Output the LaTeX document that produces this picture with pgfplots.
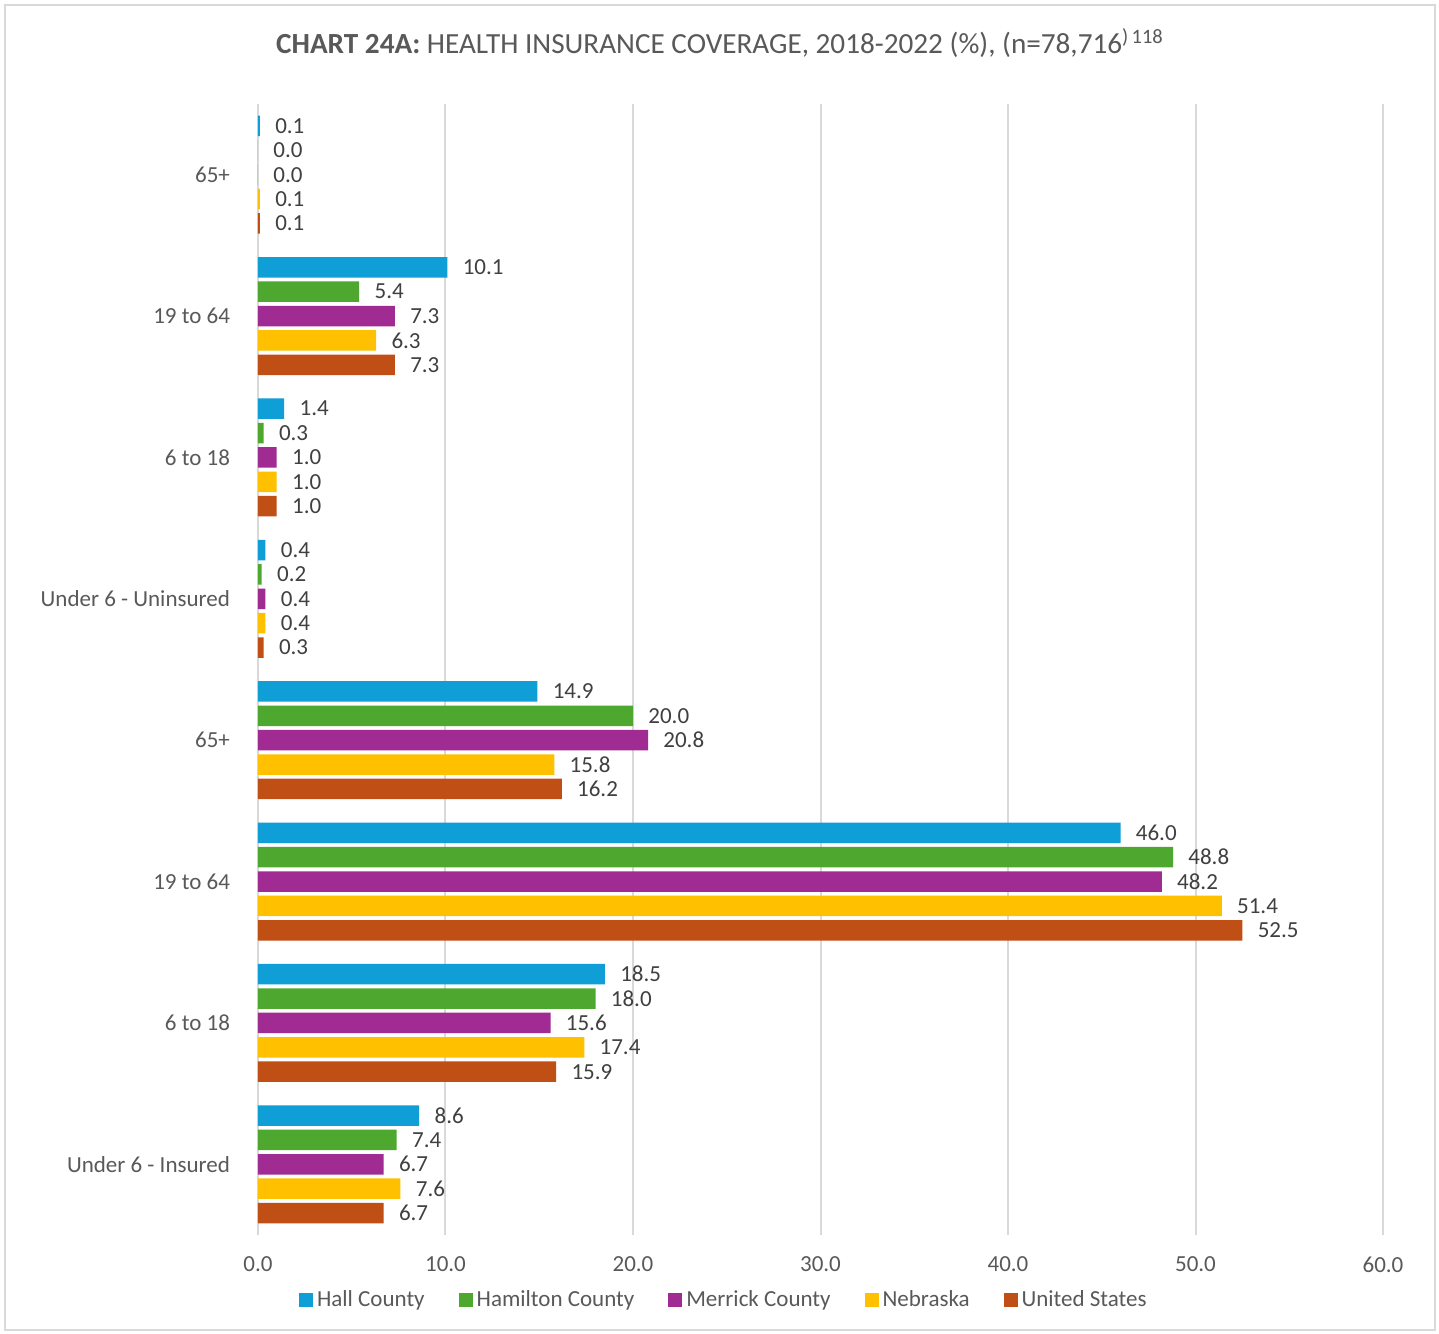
\documentclass[border=0pt]{standalone}
\usepackage{fontspec}
\setmainfont{Carlito}
\usepackage{pgfplots}
\pgfplotsset{compat=1.18}
\definecolor{hall}{HTML}{0F9ED5}
\definecolor{hamilton}{HTML}{4EA72E}
\definecolor{merrick}{HTML}{A02B93}
\definecolor{nebraska}{HTML}{FFC000}
\definecolor{usa}{HTML}{C04F15}
\definecolor{labelgray}{HTML}{595959}
\definecolor{valgray}{HTML}{404040}
\definecolor{gridgray}{HTML}{D9D9D9}
\definecolor{framegray}{HTML}{D9D9D9}
\pgfplotsset{mylegend/.style={legend image code/.code={\fill[##1] (0pt,-3.5pt) rectangle (7pt,3.5pt);}}}
\begin{document}
\begin{tikzpicture}[x=1pt,y=1pt]
\fill[white] (-129,-49) rectangle (590.5,617.5);
\draw[framegray, line width=1pt] (-126.5,-47.5) rectangle (588.5,615);
\begin{axis}[
  at={(0,0)}, anchor=south west,
  scale only axis, width=562.5pt, height=565.5pt,
  xbar, xmin=0, xmax=60, ymin=-0.5, ymax=7.5,
  xtick={0,10,...,60},
  xticklabel={\pgfmathprintnumber[fixed,fixed zerofill,precision=1]{\tick}},
  /pgf/number format/assume math mode=true,
  ytick={0,...,7},
  yticklabels={Under 6 - Insured, 6 to 18, 19 to 64, 65+, Under 6 - Uninsured, 6 to 18, 19 to 64, 65+},
  xmajorgrids, grid style={draw=gridgray, line width=1pt},
  axis line style={draw=none}, major tick length=0pt,
  tick label style={font=\fontsize{11.5}{13}\selectfont, text=labelgray},
  yticklabel style={xshift=-10.5pt},
  xticklabel style={yshift=-7.5pt},
  bar width=0.145,
  nodes near coords={\pgfmathprintnumber[fixed,fixed zerofill,precision=1]{\pgfplotspointmeta}},
  nodes near coords style={anchor=west, inner sep=0pt, xshift=7.5pt, text=valgray, font=\fontsize{11.5}{13}\selectfont},
  legend style={at={(0.415,-0.0575)}, anchor=center, draw=none, fill=none,
    font=\fontsize{11.5}{13}\selectfont, text=labelgray,
    /tikz/every even column/.append style={column sep=15pt},
    /tikz/every odd column/.append style={column sep=0pt}},
  legend columns=-1,
  clip=false,
]
\addplot[fill=hall, draw=none, bar shift=0.3452, mylegend] coordinates {
 (0.1,7) (10.1,6) (1.4,5) (0.4,4) (14.9,3) (46.0,2) (18.5,1) (8.6,0)};
\addplot[fill=hamilton, draw=none, bar shift=0.1726, mylegend] coordinates {
 (0.0,7) (5.4,6) (0.3,5) (0.2,4) (20.0,3) (48.8,2) (18.0,1) (7.4,0)};
\addplot[fill=merrick, draw=none, bar shift=0, mylegend] coordinates {
 (0.0,7) (7.3,6) (1.0,5) (0.4,4) (20.8,3) (48.2,2) (15.6,1) (6.7,0)};
\addplot[fill=nebraska, draw=none, bar shift=-0.1726, mylegend] coordinates {
 (0.1,7) (6.3,6) (1.0,5) (0.4,4) (15.8,3) (51.4,2) (17.4,1) (7.6,0)};
\addplot[fill=usa, draw=none, bar shift=-0.3452, mylegend] coordinates {
 (0.1,7) (7.3,6) (1.0,5) (0.3,4) (16.2,3) (52.5,2) (15.9,1) (6.7,0)};
\legend{Hall County, Hamilton County, Merrick County, Nebraska, United States}
\end{axis}
\node[text=labelgray, anchor=center] at (231,596) {\fontsize{14.6}{17}\selectfont\textbf{CHART 24A:} HEALTH INSURANCE COVERAGE, 2018-2022 (\%), (n=78,716\textsuperscript{)\,118}};
\pgfresetboundingbox
\path[use as bounding box] (-129,-49) rectangle (590.5,617.5);
\end{tikzpicture}
\end{document}
